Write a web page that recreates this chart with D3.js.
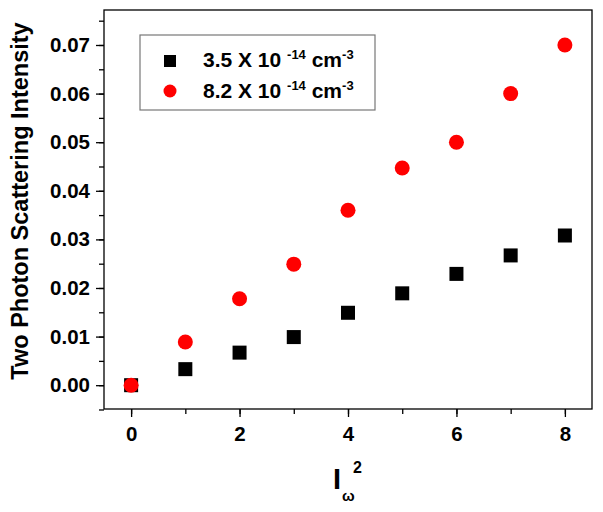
<!DOCTYPE html>
<html>
<head>
<meta charset="utf-8">
<script src="https://cdn.jsdelivr.net/npm/d3@7"></script>
<style>
  body { margin: 0; background: #fff; }
  text { font-family: "Liberation Sans", Arial, sans-serif; font-weight: bold; }
</style>
</head>
<body>
<div id="chart"></div>
<script>
// data
var xValues = [0, 1, 2, 3, 4, 5, 6, 7, 8]
var lowDensity = [0, 0.0033, 0.0067, 0.0099, 0.0149, 0.0189, 0.0229, 0.0267, 0.0308]
var highDensity = [0, 0.0089, 0.0178, 0.0249, 0.036, 0.0447, 0.0500, 0.0600, 0.0700]
var xTicks = [0, 2, 4, 6, 8]
var yTicks = [0, 0.01, 0.02, 0.03, 0.04, 0.05, 0.06, 0.07]

var width = 603, height = 512
var plotLeft = 104, plotRight = 592, plotTop = 10, plotBottom = 409

var svg = d3.select("#chart").append("svg")
    .attr("width", width)
    .attr("height", height)

var x = d3.scaleLinear().domain([-0.5, 8.5]).range([plotLeft, plotRight])
var y = d3.scaleLinear().domain([-0.0049, 0.0772]).range([plotBottom, plotTop])

// frame
svg.append("rect")
    .attr("x", plotLeft).attr("y", plotTop)
    .attr("width", plotRight - plotLeft).attr("height", plotBottom - plotTop)
    .attr("fill", "none").attr("stroke", "#000").attr("stroke-width", 1.3)

// x axis, major + minor ticks
var xAxis = svg.append("g").attr("transform", "translate(0," + plotBottom + ")")
xAxis.append("g").call(d3.axisBottom(x).tickValues(d3.range(0, 9, 1)).tickSize(5).tickFormat(""))
xAxis.append("g").call(d3.axisBottom(x).tickValues(xTicks).tickSize(8).tickPadding(9).tickFormat(d3.format("d")))
xAxis.selectAll(".domain").remove()
xAxis.selectAll("line").attr("stroke-width", 1.3)
xAxis.selectAll("g").attr("font-size", 20.5)
xAxis.selectAll("text").attr("fill", "#000")

var yAxis = svg.append("g").attr("transform", "translate(" + plotLeft + ",0)")
yAxis.append("g").call(d3.axisLeft(y).tickValues(d3.range(-0.005, 0.0751, 0.005)).tickSize(5).tickFormat(""))
yAxis.append("g").call(d3.axisLeft(y).tickValues(yTicks).tickSize(8).tickPadding(6).tickFormat(d3.format(".2f")))
yAxis.selectAll(".domain").remove()
yAxis.selectAll("line").attr("stroke-width", 1.3)
yAxis.selectAll("g").attr("font-size", 20.5)
yAxis.selectAll("text").attr("fill", "#000")

// points
var pts = xValues.map(function(d, i){ return {x: d, a: lowDensity[i], b: highDensity[i]} })
var sq = 14
svg.append("g").selectAll("rect")
    .data(pts).enter().append("rect")
    .attr("x", function(d){ return x(d.x) - sq / 2 })
    .attr("y", function(d){ return y(d.a) - sq / 2 })
    .attr("width", sq).attr("height", sq)
    .attr("fill", "#000")
svg.append("g").selectAll("circle")
    .data(pts).enter().append("circle")
    .attr("cx", function(d){ return x(d.x) })
    .attr("cy", function(d){ return y(d.b) })
    .attr("r", 7.5)
    .attr("fill", "#ff0000")

// legend
var lg = svg.append("g")
lg.append("rect")
    .attr("x", 140).attr("y", 35).attr("width", 235).attr("height", 75)
    .attr("fill", "#fff").attr("stroke", "#777").attr("stroke-width", 1.2)
lg.append("rect").attr("x", 164).attr("y", 55).attr("width", 12).attr("height", 12).attr("fill", "#000")
lg.append("circle").attr("cx", 170).attr("cy", 91).attr("r", 6.5).attr("fill", "#ff0000")
function legendText(yy, base) {
  var t = lg.append("text").attr("x", 203).attr("y", yy).attr("font-size", 21).attr("fill", "#000")
  t.append("tspan").text(base + " ")
  t.append("tspan").attr("dy", -8).attr("font-size", 13).text("-14")
  t.append("tspan").attr("dy", 8).text(" cm")
  t.append("tspan").attr("dy", -8).attr("font-size", 13).text("-3")
}
legendText(67, "3.5 X 10")
legendText(98, "8.2 X 10")

// axis titles
svg.append("text")
    .attr("transform", "translate(28,201) rotate(-90)")
    .attr("text-anchor", "middle")
    .attr("font-size", 23.5)
    .attr("fill", "#000")
    .text("Two Photon Scattering Intensity")

var xt = svg.append("g")
xt.append("text").attr("x", 333).attr("y", 489).attr("font-size", 29).attr("fill", "#000").text("I")
xt.append("text").attr("x", 353).attr("y", 473).attr("font-size", 16).attr("fill", "#000").text("2")
xt.append("text").attr("x", 342).attr("y", 501).attr("font-size", 15).attr("fill", "#000").text("ω")
</script>
</body>
</html>
